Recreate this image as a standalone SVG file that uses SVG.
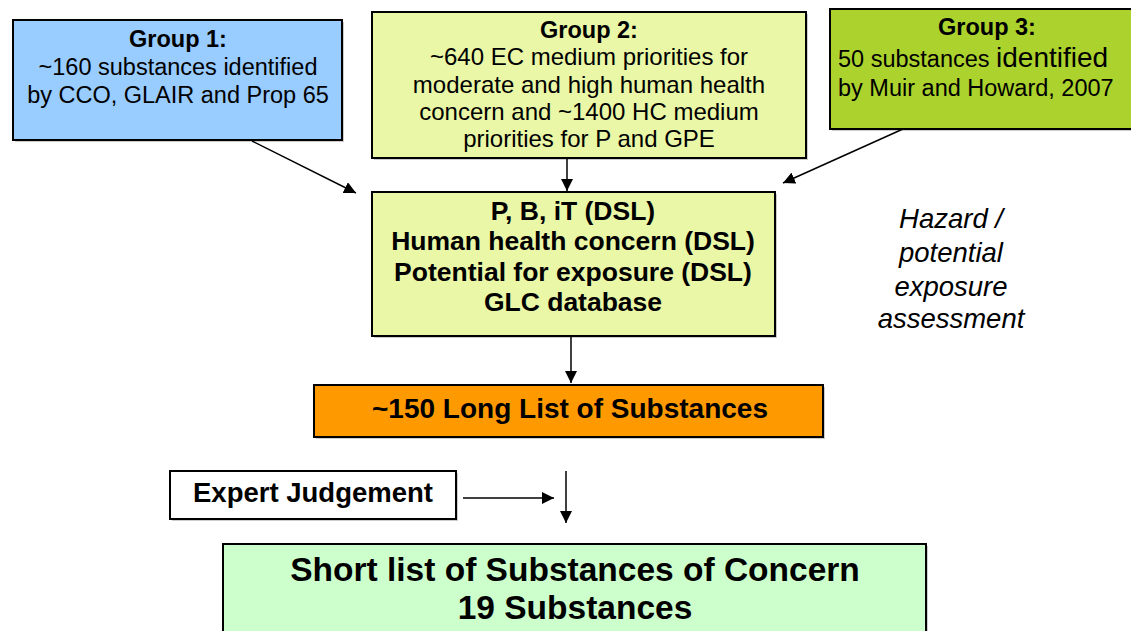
<svg xmlns="http://www.w3.org/2000/svg" width="1131" height="631" viewBox="0 0 1131 631">
<defs>
<style>
.box{stroke:#000;stroke-width:2}
.sh{fill:#999;opacity:0.5}
text{font-family:"Liberation Sans",Arial,sans-serif;fill:#000}
.b{font-weight:bold}
.c{text-anchor:middle}
.ln{stroke:#000;stroke-width:1.5;fill:none}
</style>
<marker id="ah" viewBox="0 0 10 10" refX="10" refY="5" markerWidth="12" markerHeight="12" markerUnits="userSpaceOnUse" orient="auto">
<path d="M0,0 L10,5 L0,10 z" fill="#000"/>
</marker>
</defs>
<rect width="1131" height="631" fill="#fff"/>
<g id="group1">
<rect class="sh" x="15" y="22" width="329" height="120"/>
<rect class="box" x="13" y="20" width="329" height="120" fill="#99CCFF"/>
<text class="b c" x="178" y="47" font-size="23.5">Group 1:</text>
<text class="c" x="178" y="75" font-size="23.5">~160 substances identified</text>
<text class="c" x="178" y="103" font-size="23.5">by CCO, GLAIR and Prop 65</text>
</g>
<g id="group2">
<rect class="sh" x="374" y="14" width="434" height="146"/>
<rect class="box" x="372" y="12" width="434" height="146" fill="#EAF7A6"/>
<text class="b c" x="589" y="38" font-size="23.5">Group 2:</text>
<text class="c" x="589" y="65" font-size="24">~640 EC medium priorities for</text>
<text class="c" x="589" y="93" font-size="24">moderate and high human health</text>
<text class="c" x="589" y="120" font-size="24">concern and ~1400 HC medium</text>
<text class="c" x="589" y="147" font-size="24">priorities for P and GPE</text>
</g>
<g id="group3">
<rect class="sh" x="832" y="11" width="305" height="120"/>
<rect class="box" x="830" y="9" width="305" height="120" fill="#ACD22D"/>
<text class="b c" x="987" y="35" font-size="23.5">Group 3:</text>
<text x="838" y="67" font-size="23.5">50 substances <tspan font-size="28">identified</tspan></text>
<text x="838" y="96" font-size="23.5">by Muir and Howard, 2007</text>
</g>
<g id="screen">
<rect class="sh" x="374" y="194" width="403" height="144"/>
<rect class="box" x="372" y="192" width="403" height="144" fill="#EAF7A6"/>
<text class="b c" x="573" y="220" font-size="26.5">P, B, iT (DSL)</text>
<text class="b c" x="573" y="250" font-size="26.5">Human health concern (DSL)</text>
<text class="b c" x="573" y="281" font-size="26.5">Potential for exposure (DSL)</text>
<text class="b c" x="573" y="311" font-size="26.5">GLC database</text>
</g>
<g id="hazard">
<text class="c" x="951" y="228" font-size="27.5" font-style="italic">Hazard /</text>
<text class="c" x="951" y="262" font-size="27.5" font-style="italic">potential</text>
<text class="c" x="951" y="296" font-size="27.5" font-style="italic">exposure</text>
<text class="c" x="951" y="328" font-size="27.5" font-style="italic">assessment</text>
</g>
<g id="longlist">
<rect class="sh" x="316" y="387" width="509" height="52"/>
<rect class="box" x="314" y="385" width="509" height="52" fill="#FF9900"/>
<text class="b" x="372" y="418" font-size="28">~150 Long List of Substances</text>
</g>
<g id="expert">
<rect class="sh" x="172" y="473" width="286" height="48"/>
<rect class="box" x="170" y="471" width="286" height="48" fill="#fff" stroke-width="1.5"/>
<text class="b c" x="313" y="502" font-size="27.5">Expert Judgement</text>
</g>
<g id="shortlist">
<rect class="sh" x="225" y="546" width="703" height="100"/>
<rect class="box" x="223" y="544" width="703" height="100" fill="#CCFFCC"/>
<text class="b c" x="575" y="581" font-size="33.5">Short list of Substances of Concern</text>
<text class="b c" x="575" y="619" font-size="33.5">19 Substances</text>
</g>
<g id="connectors">
<line class="ln" x1="252" y1="141" x2="356" y2="193" marker-end="url(#ah)"/>
<line class="ln" x1="567" y1="158" x2="567" y2="191" marker-end="url(#ah)"/>
<line class="ln" x1="903" y1="129" x2="783" y2="183" marker-end="url(#ah)"/>
<line class="ln" x1="571" y1="336" x2="571" y2="383" marker-end="url(#ah)"/>
<line class="ln" x1="463" y1="498" x2="554" y2="498" marker-end="url(#ah)"/>
<line class="ln" x1="566" y1="471" x2="566" y2="523" marker-end="url(#ah)"/>
</g>
</svg>
